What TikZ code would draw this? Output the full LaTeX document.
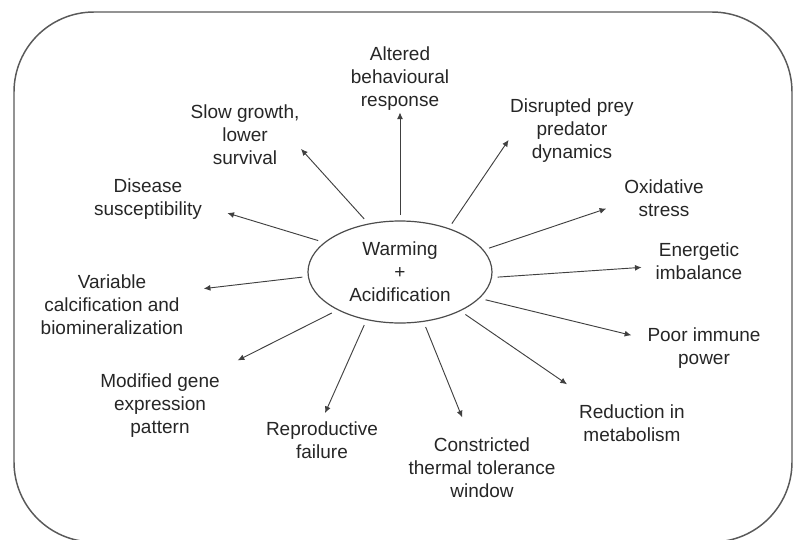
\documentclass[tikz,border=0pt]{standalone}
\usepackage{fontspec}
\setmainfont{Liberation Sans}
\usetikzlibrary{arrows.meta,shapes.geometric}
\tikzset{
  lbl/.style={align=center, inner sep=1pt, text=black!85,
    font=\fontsize{14.25}{17.25}\selectfont},
  arr/.style={-{Latex[length=5pt,width=4.5pt]}, draw=black!75, line width=0.7pt},
  frame/.style={draw=black!65, line width=1.1pt, rounded corners=60pt}
}
\begin{document}
\begin{tikzpicture}[x=0.75pt,y=-0.75pt]
    \useasboundingbox (0,0) rectangle (794,540);
    % Frame
    \draw[frame] (14,12) rectangle (792,542);

    % Centre ellipse
    \node[ellipse, draw=black!70, line width=0.9pt, minimum width=138pt, minimum height=76.5pt,
          inner sep=0pt, outer sep=4.5pt, lbl] (centre) at (400,272) {Warming\\+\\Acidification};

    % Effects
    \node[lbl] (alt)  at (400,79)  {Altered\\behavioural\\response};
    \node[lbl] (slow) at (245,135) {Slow growth,\\lower\\survival};
    \node[lbl] (dis)  at (148,199) {Disease\\susceptibility};
    \node[lbl] (var)  at (112,305) {Variable\\calcification and\\biomineralization};
    \node[lbl] (mod)  at (160,406) {Modified gene\\expression\\pattern};
    \node[lbl] (rep)  at (322,440) {Reproductive\\failure};
    \node[lbl] (con)  at (482,468) {Constricted\\thermal tolerance\\window};
    \node[lbl] (red)  at (632,423) {Reduction in\\metabolism};
    \node[lbl] (poor) at (704,348) {Poor immune\\power};
    \node[lbl] (ener) at (699,261) {Energetic\\imbalance};
    \node[lbl] (oxi)  at (664,198) {Oxidative\\stress};
    \node[lbl] (prey) at (572,131) {Disrupted prey\\predator\\dynamics};

    % Arrows
    \foreach \name/\a/\b/\s in {alt/90/270/0, slow/124/346/0, dis/159/353/18.75,
        var/183/11/14.25, mod/211/32/20.25, rep/236/90/5.6, con/295/111/15.4,
        red/327/152/24.75, poor/342/171/11.25, ener/357/187/9.4, oxi/15/187/13.1,
        prey/43/188/0}
    \draw[arr, shorten >=\s pt] (centre.\a) -- (\name.\b);
\end{tikzpicture}
\end{document}
